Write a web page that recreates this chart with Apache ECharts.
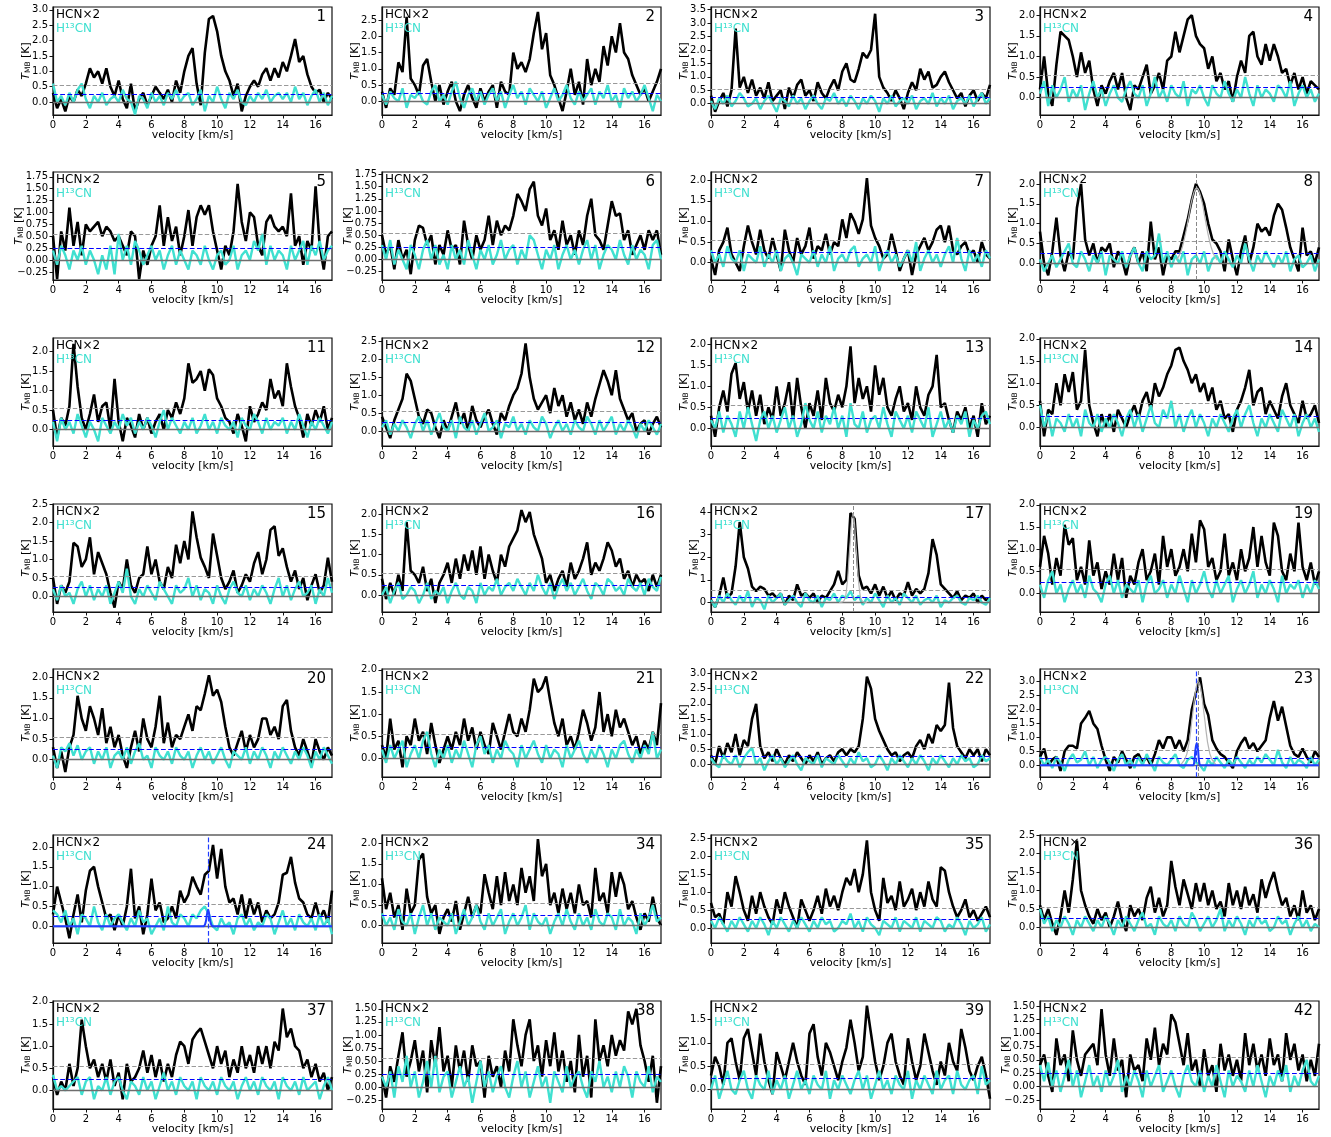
<!DOCTYPE html>
<html>
<head>
<meta charset="utf-8">
<title>HCN x2 / H13CN spectra</title>
<script src="https://cdn.jsdelivr.net/npm/echarts@6/dist/echarts.min.js"></script>
<style>
html,body{margin:0;padding:0;background:#fff;}
#main{width:1331px;height:1137px;}
</style>
</head>
<body>
<div id="main"></div>
<script>
// spectra resampled to 0.25 km/s channels, first channel at 0 km/s
var velStep = 0.25;

var panelIds = [1,2,3,4,5,6,7,8,11,12,13,14,15,16,17,19,20,21,22,23,24,34,35,36,37,38,39,42];

var xTicks = [0,2,4,6,8,10,12,14,16];
var ticksA = [0,0.5,1,1.5,2];
var ticksB = [0,0.5,1,1.5,2,2.5];
var ticksC = [0,0.5,1,1.5,2,2.5,3];
var ticksD = [0,0.5,1,1.5,2,2.5,3,3.5];
var ticksQ = [-0.25,0,0.25,0.5,0.75,1,1.25,1.5,1.75];
var ticksQ15 = [-0.25,0,0.25,0.5,0.75,1,1.25,1.5];
var ticks17 = [0,1,2,3,4];
var ticks39 = [0,0.5,1,1.5];

var panelTicks = [ticksC,ticksB,ticksD,ticksA,ticksQ,ticksQ,ticksA,ticksA,ticksA,ticksB,ticksA,ticksA,ticksB,ticksA,
                  ticks17,ticksA,ticksA,ticksA,ticksC,ticksC,ticksA,ticksA,ticksB,ticksB,ticksA,ticksQ15,ticks39,ticksQ15];
var panelYmax = [3.09,2.9,3.6,2.2,1.85,1.8,2.2,2.3,2.35,2.6,2.15,2.02,2.5,2.25,
                 4.35,2.02,2.2,2.02,3.15,3.45,2.3,2.2,2.6,2.5,2.02,1.65,1.9,1.6];
var yMin = -0.42;
var hcnLevel = 0.55;   // grey dashed
var h13Level = 0.25;   // blue dashed

// ---- HCN x2 (black) ----
var hcn1 = [0.3,-0.2,0.1,-0.3,0.2,0.0,0.4,0.2, 0.6,1.1,0.8,1.0,0.6,1.1,0.5,0.2, 0.7,0.1,-0.2,0.6,-0.3,0.1,0.3,-0.1,
  0.2,0.5,0.3,0.1,0.4,0.0,0.7,0.3, 1.0,1.5,1.75,0.6,-0.1,1.6,2.7,2.8, 2.3,1.5,1.0,0.7,0.2,0.6,-0.3,0.2,
  0.5,0.7,0.5,0.9,1.1,0.7,1.1,0.8, 1.3,1.0,1.5,2.05,1.3,1.5,0.9,0.5, 0.3,0.4,0.0,0.3,0.1];
var hcn2 = [0.3,-0.2,0.4,0.2,1.2,0.9,2.6,0.7, 0.5,0.2,1.1,1.3,0.6,0.0,0.5,-0.1, 0.3,0.6,0.0,-0.3,0.2,0.5,0.1,-0.2,
  0.4,0.0,0.3,0.5,-0.2,0.6,0.3,0.2, 1.5,1.0,1.2,0.9,1.3,2.1,2.75,1.6, 2.1,0.8,0.5,0.1,-0.3,0.3,1.0,0.2,
  0.6,-0.1,1.3,0.5,1.0,0.6,1.7,1.1, 2.0,1.5,2.4,1.5,1.3,0.8,0.5,0.2, 0.4,0.0,0.3,0.6,1.0];
var hcn3 = [0.3,-0.3,0.1,0.4,-0.1,0.5,2.8,0.6, 1.0,0.4,0.9,0.3,0.6,0.2,0.8,0.1, 0.3,0.5,-0.2,0.6,0.2,0.7,0.9,0.3,
  0.5,0.1,0.8,0.4,0.2,0.6,0.9,0.5, 1.2,1.5,0.9,0.8,1.3,1.9,1.7,2.0, 3.35,1.0,0.6,0.4,0.1,0.5,0.2,-0.2,
  0.4,0.8,0.5,1.3,0.9,1.2,0.6,0.7, 1.0,1.2,0.8,0.5,0.2,0.4,-0.1,0.3, 0.5,0.1,0.4,0.2,0.7];
var hcn4 = [0.2,1.0,0.1,-0.2,0.8,1.6,1.5,1.4, 1.0,0.5,1.1,0.6,0.9,0.2,-0.2,0.3, 0.1,0.4,0.6,0.2,0.6,0.0,-0.3,0.3,
  0.2,0.5,0.8,0.1,0.3,0.6,0.2,0.9, 1.0,1.6,1.1,1.5,1.9,2.0,1.5,1.3, 1.2,0.7,1.0,0.4,0.6,0.2,0.4,-0.1,
  0.5,0.9,0.6,1.5,1.6,1.0,0.8,1.3, 0.9,1.3,1.0,0.6,0.7,0.3,0.6,0.2, 0.5,0.1,0.4,0.3,0.2];
var hcn5 = [0.5,-0.4,0.6,0.2,1.1,0.3,0.8,0.1, 0.75,0.6,0.7,0.8,0.5,0.7,0.6,0.4, 0.5,0.3,0.1,0.6,0.5,-0.4,0.2,-0.1,
  0.3,0.5,1.15,0.3,0.9,0.4,0.7,0.1, 0.5,1.05,0.3,0.9,1.15,0.95,1.15,0.6, 0.2,-0.2,0.3,0.1,0.6,1.6,0.8,0.4,
  1.0,0.9,0.3,0.1,0.8,0.95,0.7,0.6, 0.7,0.5,1.4,0.3,0.5,-0.1,0.4,0.2, 1.55,0.3,-0.2,0.5,0.6];
var hcn6 = [0.5,0.1,0.3,-0.2,0.4,0.0,0.2,-0.3, 0.4,0.7,0.65,0.3,0.5,-0.1,0.3,0.1, 0.6,0.2,0.3,-0.1,0.8,0.3,0.0,0.5,
  0.2,0.4,0.9,0.3,0.8,0.5,0.7,0.6, 0.9,1.35,1.2,1.0,1.45,1.6,0.9,0.7, 1.05,0.4,0.6,0.2,0.8,0.3,0.5,0.1,
  0.6,0.3,0.9,1.25,0.5,0.4,0.2,0.7, 1.2,0.9,0.95,0.4,0.6,0.1,0.3,0.5, 0.2,0.6,0.4,0.6,0.1];
var hcn7 = [0.1,-0.3,0.3,0.5,0.85,0.2,0.0,-0.2, 0.4,0.9,0.5,0.2,0.8,0.3,0.1,0.6, 0.2,-0.2,0.8,0.3,0.0,0.6,0.2,0.4,
  0.85,0.1,0.4,0.3,0.7,0.2,0.5,0.4, 1.05,0.6,1.2,1.0,0.7,1.05,2.05,0.9, 0.6,0.4,0.1,0.2,0.7,0.3,-0.2,0.1,
  0.3,-0.3,0.2,0.4,0.6,0.3,0.5,0.8, 0.9,0.5,0.9,0.3,0.2,0.4,0.5,0.2, 0.3,0.0,0.5,0.2,0.1];
var hcn8 = [0.8,0.0,-0.3,0.3,1.15,0.2,-0.2,0.3, 0.1,1.4,2.0,0.6,0.2,0.5,0.0,0.4, 0.3,0.5,-0.1,0.3,0.1,-0.3,0.2,0.4,
  0.0,0.3,-0.2,1.05,0.1,0.4,-0.3,0.2, 0.1,0.3,0.3,0.7,1.1,1.6,2.0,1.8, 1.5,1.0,0.6,0.5,0.3,-0.2,0.6,0.1,
  -0.3,0.3,0.7,0.0,0.4,1.0,0.8,0.9, 0.7,1.2,1.5,1.35,0.9,0.4,0.1,-0.2, 0.9,0.2,0.3,0.0,0.4];
var hcn11 = [0.5,-0.2,0.3,0.1,0.6,2.2,1.1,0.3, 0.0,0.4,0.9,0.2,0.6,0.7,0.0,1.3, 0.2,-0.3,0.3,0.1,-0.2,0.4,0.0,0.3,
  -0.1,0.2,0.4,0.0,0.5,0.3,0.7,0.4, 0.8,1.7,1.2,1.3,1.5,1.0,1.55,1.4, 0.8,0.6,0.3,0.2,-0.1,0.4,0.1,-0.3,
  0.6,0.2,0.4,0.7,0.5,1.3,0.8,1.0, 0.6,1.7,1.1,0.6,0.3,-0.2,0.4,0.1, 0.5,0.2,0.6,0.0,0.3];
var hcn12 = [0.4,0.1,-0.2,0.3,0.6,0.9,1.6,1.4, 0.9,0.4,0.2,0.6,0.5,0.1,-0.2,0.3, 0.0,0.4,0.8,0.2,0.5,0.0,0.7,0.3,
  0.1,0.4,0.6,0.2,-0.1,0.5,0.3,0.7, 1.0,1.2,1.6,2.45,1.5,0.9,0.6,0.8, 1.0,0.5,1.2,0.7,1.0,0.4,0.8,0.3,
  0.6,0.2,0.8,0.4,0.9,1.3,1.7,1.4, 1.0,1.7,0.9,0.6,0.3,0.5,0.0,0.2, 0.3,-0.1,0.2,0.4,0.1];
var hcn13 = [0.3,-0.2,0.5,0.9,0.4,1.3,1.55,0.7, 1.1,0.4,0.9,0.3,0.8,0.1,0.5,0.2, 1.0,0.3,0.6,1.1,0.2,1.2,0.5,0.0,
  0.6,0.3,0.9,0.2,1.2,0.6,0.4,0.8, 0.5,1.0,1.95,0.6,1.2,0.7,1.0,0.4, 1.5,0.8,1.2,0.5,0.3,0.7,1.0,0.4,
  0.6,0.2,1.0,0.5,0.3,0.8,1.0,1.75, 0.5,0.6,0.2,-0.1,0.4,0.2,0.5,0.0, 0.3,-0.2,0.6,0.1,0.3];
var hcn14 = [0.6,-0.2,0.4,0.3,1.0,0.5,1.2,0.8, 1.25,0.4,0.6,1.75,0.5,0.1,-0.2,0.3, 0.0,0.3,-0.1,0.4,0.2,0.0,0.3,0.5,
  0.2,0.6,0.8,0.4,1.0,0.7,0.9,1.2, 1.4,1.75,1.8,1.5,1.3,1.0,1.2,0.8, 1.0,0.6,0.9,0.4,0.6,0.2,0.3,-0.1,
  0.4,0.6,0.9,1.3,0.5,0.8,0.9,0.3, 0.6,0.4,0.2,0.7,1.0,0.5,0.3,0.1, 0.6,0.2,0.3,0.5,0.1];
var hcn15 = [0.5,-0.2,0.3,0.1,0.4,1.45,1.35,0.8, 1.0,1.6,0.6,1.2,0.9,0.6,0.1,-0.3, 0.4,0.2,1.0,0.3,0.1,0.5,0.6,1.35,
  0.6,1.0,0.4,0.2,0.8,0.5,1.4,0.9, 1.5,1.0,2.3,1.6,1.05,0.8,0.5,1.7, 1.1,0.5,0.2,0.4,0.7,0.1,0.3,0.6,
  0.4,0.9,1.2,0.6,1.0,1.8,1.9,1.1, 1.3,0.8,0.4,0.7,0.2,0.5,-0.1,0.3, 0.6,0.1,0.3,1.05,0.4];
var hcn16 = [0.4,-0.1,0.3,0.0,0.5,0.1,1.8,0.6, 0.5,0.3,0.7,0.1,0.4,-0.2,0.3,0.5, 0.8,0.3,0.9,0.4,1.0,0.6,1.1,0.5,
  1.2,0.4,1.0,0.6,0.3,1.0,0.7,1.2, 1.4,1.6,2.1,1.8,2.05,1.5,1.2,0.9, 0.3,0.5,0.1,0.4,0.6,0.2,0.8,0.4,
  0.6,0.9,1.3,0.5,0.8,0.6,0.9,1.3, 1.1,0.7,0.9,0.4,0.6,0.2,0.5,0.3, 0.4,0.1,0.5,0.2,0.5];
var hcn17 = [0.1,-0.2,0.3,1.1,0.2,0.4,1.6,3.55, 2.0,1.5,0.7,0.5,0.7,0.6,0.3,0.4, 0.2,0.4,-0.1,0.3,0.1,0.8,0.3,0.4,
  0.2,0.4,0.0,0.3,0.2,0.5,0.8,1.4, 0.8,1.0,3.95,3.7,1.2,0.6,0.7,0.4, 0.8,0.3,0.7,0.2,0.5,0.1,0.4,0.3,
  0.9,0.3,0.6,0.4,0.6,1.3,2.8,2.1, 0.8,0.6,0.4,0.2,0.5,0.1,0.3,0.2, 0.4,0.0,0.3,0.1,0.2];
var hcn19 = [0.6,1.3,0.9,0.2,0.8,0.4,1.55,1.1, 1.25,0.3,0.6,0.2,1.2,0.4,0.7,0.1, 0.5,0.2,0.9,0.3,0.8,-0.1,0.4,0.2,
  0.7,1.0,0.3,0.5,0.9,0.2,1.3,0.6, 1.0,0.4,0.6,1.0,0.5,1.35,0.7,1.65, 1.45,0.6,0.8,0.3,0.5,1.35,0.4,0.7,
  0.3,1.0,0.5,0.8,1.5,0.6,1.3,0.7, 0.4,1.6,1.3,0.5,0.3,0.9,0.5,1.6, 0.6,0.3,0.7,0.2,0.5];
var hcn20 = [0.3,-0.2,0.2,-0.3,0.3,0.6,1.55,1.0, 0.7,1.3,1.0,0.6,1.25,0.4,0.8,0.3, 0.6,0.1,-0.2,0.3,0.7,0.2,1.0,0.5,
  0.3,0.8,1.55,0.4,0.9,0.3,0.6,0.5, 0.8,1.1,0.7,1.3,1.2,1.6,2.05,1.55, 1.7,1.4,0.8,0.3,0.1,0.4,0.7,0.2,
  0.6,0.3,0.5,1.0,1.0,0.6,0.8,0.5, 1.3,1.45,0.7,0.3,0.1,0.5,0.2,-0.1, 0.5,0.2,0.0,0.3,0.1];
var hcn21 = [0.3,0.0,0.9,0.2,0.4,-0.2,0.5,0.3, 0.9,0.4,0.6,0.1,0.8,0.3,-0.1,0.2, 0.5,0.2,0.6,0.3,0.9,0.4,0.7,0.2,
  0.6,0.3,0.1,0.8,0.5,0.2,0.6,1.0, 0.6,0.5,0.9,0.6,1.1,1.8,1.5,1.6, 1.85,1.3,0.8,0.5,0.9,0.3,0.5,0.2,
  0.6,1.1,0.8,0.4,0.7,1.5,0.6,1.0, 0.5,1.1,0.7,0.9,0.6,0.3,0.5,0.1, 0.4,0.2,0.6,0.3,1.25];
var hcn22 = [0.3,0.0,0.6,0.2,0.7,0.4,1.0,0.3, 0.8,0.6,1.5,2.0,0.6,0.2,0.4,0.1, 0.5,0.2,0.0,0.3,0.1,0.4,0.2,0.0,
  0.3,0.1,0.4,0.0,0.2,0.3,0.1,0.4, 0.5,0.3,0.5,0.4,0.6,1.5,2.9,2.5, 1.5,1.1,0.8,0.5,0.3,0.4,0.1,0.3,
  0.4,0.2,0.6,0.8,0.5,1.0,0.7,1.3, 1.1,1.3,2.7,1.2,0.6,0.4,0.2,0.5, 0.3,0.5,0.1,0.5,0.3];
var hcn23 = [0.3,0.6,0.0,0.2,0.3,-0.2,0.5,0.7, 0.7,0.6,1.5,1.7,1.95,1.5,1.3,0.7, 0.2,-0.2,0.3,0.1,0.5,0.2,-0.1,0.3,
  0.4,0.1,0.3,0.0,0.4,0.9,0.6,1.0, 1.0,0.6,0.9,0.5,0.9,2.0,2.6,3.15, 2.2,1.8,0.9,0.6,0.4,0.3,0.1,-0.1,
  0.5,0.8,1.0,0.6,0.8,0.5,0.7,0.9, 1.7,2.3,1.6,2.1,1.4,0.7,0.4,0.3, 0.6,0.3,0.1,0.5,0.3];
var hcn24 = [0.3,1.0,0.6,0.2,-0.3,0.3,0.8,0.1, 0.9,1.4,1.5,1.0,0.6,0.2,0.3,-0.1, 0.3,0.0,0.5,1.45,0.2,0.5,-0.2,0.3,
  1.2,0.4,0.6,0.1,0.2,0.5,0.2,0.9, 0.6,0.8,1.25,1.0,0.8,1.3,1.4,2.05, 1.2,1.95,1.0,0.6,0.7,0.3,0.8,0.2,
  0.7,0.3,0.6,0.1,0.4,0.2,0.3,0.6, 1.3,1.35,1.75,1.1,0.7,0.6,0.3,0.2, 0.6,0.2,0.4,0.1,0.9];
var hcn34 = [1.15,0.4,0.8,0.2,0.5,-0.1,0.9,0.3, 0.5,1.6,1.75,0.7,0.3,0.5,-0.2,0.2, 0.4,0.1,0.6,-0.1,0.3,0.7,0.2,0.5,
  0.3,1.25,0.8,0.4,1.2,0.5,1.3,0.6, 1.0,0.5,1.4,0.8,1.2,0.6,2.1,1.2, 1.5,0.5,0.8,0.3,0.9,0.4,0.8,0.3,
  1.0,0.5,0.6,0.2,1.4,0.6,0.8,0.3, 1.3,0.7,1.3,1.0,0.4,0.6,0.2,-0.1, 0.3,0.1,0.7,0.2,0.0];
var hcn35 = [0.7,0.3,0.4,0.1,1.0,0.6,1.45,1.0, 0.5,0.2,0.9,0.4,1.0,0.6,0.3,0.1, 0.8,0.4,1.0,0.6,0.3,0.0,0.8,0.5,
  0.2,0.5,0.9,0.4,1.1,0.6,0.9,0.5, 1.0,1.4,1.2,1.65,1.0,1.5,2.45,1.0, 0.5,0.2,1.4,0.7,0.9,0.5,1.3,0.6,
  0.8,1.1,0.5,1.0,0.6,1.3,0.8,0.6, 1.7,1.6,1.0,0.6,0.3,0.5,0.8,0.3, 0.5,0.2,0.4,0.6,0.3];
var hcn36 = [0.6,0.2,0.5,0.1,-0.2,0.3,1.0,0.4, 1.3,2.35,1.0,0.6,0.3,0.1,0.5,0.2, 0.4,0.0,0.3,0.7,0.2,-0.1,0.6,0.3,
  0.5,0.2,0.8,1.1,0.4,0.8,0.3,0.6, 1.8,1.1,0.6,1.3,0.9,0.5,1.2,0.7, 1.2,0.6,1.0,0.5,0.7,0.3,1.2,0.6,
  1.0,0.5,1.1,0.6,0.9,0.4,1.3,0.8, 1.2,1.5,1.0,0.6,0.8,0.3,0.6,0.2, 1.0,0.4,0.6,0.2,0.5];
var hcn37 = [0.3,-0.1,0.2,0.0,0.6,0.1,0.5,1.6, 1.0,0.5,0.7,0.3,0.6,0.2,0.7,0.1, 0.4,-0.2,0.6,0.2,0.3,0.5,0.9,0.4,
  0.8,0.3,0.7,0.2,0.6,0.3,0.8,1.1, 1.0,0.6,1.15,1.3,1.4,1.1,0.8,0.5, 1.0,0.6,0.9,0.3,0.7,0.4,1.0,0.5,
  0.8,0.4,1.0,0.6,1.0,0.5,1.1,0.9, 1.85,1.2,1.4,1.0,0.9,0.5,0.7,0.3, 0.6,0.2,0.4,0.0,0.3];
var hcn38 = [0.2,-0.2,0.4,0.1,0.6,1.05,0.2,0.5, 0.9,0.3,0.7,-0.1,0.9,0.4,1.15,0.3, 0.6,0.0,0.8,0.3,0.7,0.1,0.8,0.4,
  0.5,-0.2,0.6,0.2,0.4,0.0,0.7,0.3, 1.3,0.8,0.4,1.0,1.3,0.5,0.8,0.2, 0.9,0.4,1.05,0.3,0.7,0.1,0.5,-0.1,
  1.0,0.2,0.6,-0.2,1.3,0.5,0.8,0.4, 1.0,0.6,0.9,0.7,1.45,1.2,1.5,0.8, 0.5,0.1,0.6,-0.3,0.4];
var hcn39 = [0.3,0.7,0.5,0.1,1.0,1.1,0.6,0.2, 1.1,1.3,0.8,0.3,1.2,0.6,0.2,-0.1, 0.8,0.5,0.2,0.6,1.0,0.6,0.3,0.1,
  1.2,1.4,0.7,0.3,1.0,0.8,0.5,0.2, 0.6,0.9,1.5,1.0,0.4,0.7,1.8,1.2, 0.6,0.2,0.5,1.0,1.2,0.6,0.3,0.1,
  1.1,0.6,0.2,0.5,1.2,0.8,0.4,0.1, 0.6,0.3,1.0,0.6,0.4,1.3,0.9,0.4, 0.2,0.5,0.7,0.3,-0.2];
var hcn42 = [0.4,0.6,0.2,-0.1,0.9,0.4,0.6,0.1, 1.05,0.5,0.2,0.6,0.7,0.8,0.4,1.45, 0.6,0.2,0.9,0.3,0.5,-0.2,0.6,0.3,
  0.4,0.1,0.9,0.5,1.1,0.4,0.8,0.6, 1.35,1.2,0.8,0.4,1.0,0.3,0.5,0.0, 0.7,0.2,0.4,-0.1,0.8,0.3,0.6,0.2,
  0.5,0.1,1.0,0.4,0.8,0.3,0.6,0.2, 0.9,0.4,0.6,0.1,1.0,0.5,0.8,0.3, 0.6,0.1,0.5,0.2,0.8];

// ---- H13CN (turquoise) ----
var h13_1 = [0.6,0.0,0.2,-0.1,0.3,0.0,0.4,0.6, 0.1,-0.2,0.2,0.0,0.3,-0.1,0.1,0.2, 0.0,0.4,0.1,0.0,-0.4,0.2,0.1,-0.2,
  0.3,0.0,0.2,-0.1,0.3,0.1,0.4,0.0, 0.2,0.3,-0.1,0.1,0.4,-0.3,0.2,0.0, 0.5,0.1,-0.2,0.3,0.1,0.4,0.0,-0.1,
  0.2,0.0,0.3,0.1,0.4,0.0,0.2,0.3, 0.1,0.3,0.0,0.5,0.1,0.3,-0.1,0.2, 0.4,0.0,0.3,-0.1,0.2];
var h13_2 = [0.2,-0.1,0.3,0.1,0.0,0.4,-0.2,0.2, 0.1,0.3,0.0,-0.1,0.3,0.5,0.0,0.2, -0.1,0.3,0.6,0.1,-0.2,0.2,0.4,0.0,
  0.3,-0.1,0.2,0.4,0.0,0.3,-0.2,0.2, 0.5,0.1,0.3,-0.1,0.4,0.2,0.0,0.3, -0.2,0.1,0.4,0.0,0.2,0.5,0.1,-0.1,
  0.3,0.0,0.2,0.4,-0.1,0.3,0.1,0.5, 0.0,0.2,-0.2,0.4,0.1,0.3,0.0,0.2, 0.5,0.1,-0.3,0.2,0.0];
var h13_3 = [0.1,-0.2,0.2,0.0,0.3,-0.1,0.1,0.4, 0.2,-0.1,0.0,0.2,-0.2,0.1,0.3,0.0, -0.3,0.2,0.1,-0.1,0.3,0.0,0.2,-0.2,
  0.1,0.3,0.0,-0.2,0.2,0.1,0.4,0.0, 0.2,-0.1,0.3,0.1,-0.2,0.2,0.0,0.3, 0.1,-0.3,0.2,0.0,0.3,-0.1,0.1,0.2,
  0.0,0.3,-0.2,0.1,0.2,0.0,0.4,-0.1, 0.2,0.0,0.3,-0.2,0.1,0.2,0.0,0.3, -0.1,0.2,0.4,0.0,0.2];
var h13_4 = [0.1,0.4,-0.2,0.3,0.0,0.2,0.5,-0.1, 0.2,0.0,0.3,-0.3,0.1,0.4,0.0,0.2, -0.2,0.1,0.3,0.0,-0.1,0.2,0.4,0.1,
  0.0,0.3,-0.2,0.1,0.5,0.0,0.2,-0.1, 0.3,0.1,0.0,0.4,-0.2,0.2,0.1,0.3, 0.0,-0.2,0.3,0.1,0.0,0.4,0.1,-0.1,
  0.2,0.0,0.5,0.1,-0.2,0.3,0.0,0.2, 0.1,-0.1,0.3,0.2,0.0,0.4,-0.2,0.1, 0.3,0.0,0.2,-0.1,0.1];
var h13_5 = [0.2,-0.1,0.3,0.1,-0.2,0.2,0.0,0.3, -0.1,0.2,0.0,-0.3,0.1,-0.2,0.3,-0.3, 0.55,0.0,0.3,-0.1,0.4,0.2,-0.1,0.1,
  0.3,0.0,0.2,-0.2,0.1,0.3,-0.1,0.2, 0.0,-0.2,0.2,0.1,-0.1,0.3,0.0,-0.2, 0.1,0.2,-0.1,0.0,0.3,-0.2,0.1,0.2,
  0.0,0.4,0.2,0.55,-0.1,0.3,0.0,0.2, 0.1,-0.2,0.3,0.0,0.2,0.4,-0.1,0.3, 0.1,0.4,0.0,0.2,0.3];
var h13_6 = [0.3,0.0,0.4,-0.1,0.2,0.0,-0.2,0.3, 0.1,-0.2,0.2,0.4,0.0,0.3,-0.1,0.1, -0.2,0.3,0.0,0.2,-0.1,0.4,0.1,-0.2,
  0.2,0.0,0.3,-0.1,0.1,0.4,0.0,0.2, 0.3,-0.1,0.2,0.0,0.5,0.4,0.1,-0.2, 0.2,0.0,0.3,-0.2,0.1,0.3,0.0,0.2,
  -0.1,0.2,0.4,0.0,0.3,-0.2,0.1,0.3, 0.2,0.0,0.4,0.1,-0.1,0.3,0.0,0.2, 0.1,-0.2,0.3,0.4,0.0];
var h13_7 = [0.3,0.0,0.2,-0.1,0.4,0.1,0.0,0.3, -0.2,0.2,0.1,0.0,0.4,-0.1,0.2,0.0, 0.3,-0.2,0.1,0.2,0.0,-0.3,0.2,0.1,
  0.0,0.3,-0.1,0.2,0.0,0.4,-0.2,0.1, 0.2,0.0,0.3,0.4,-0.1,0.1,0.2,0.0, 0.4,-0.2,0.1,0.3,0.0,0.2,-0.1,0.1,
  0.3,0.0,0.5,-0.2,0.1,0.3,0.0,0.2, -0.1,0.2,0.4,0.0,0.6,0.1,-0.2,0.3, 0.0,0.2,-0.1,0.3,0.1];
var h13_8 = [0.1,-0.2,0.0,0.2,-0.1,0.1,0.3,0.5, 0.0,-0.1,0.3,0.1,-0.2,0.2,0.0,0.3, -0.3,0.2,0.1,0.0,0.3,-0.1,0.2,0.4,
  0.0,-0.2,0.3,0.1,0.2,0.75,0.0,0.3, -0.1,0.2,0.0,0.3,-0.3,0.1,0.2,0.0, 0.3,-0.2,0.1,0.2,0.0,0.3,0.1,-0.1,
  0.2,0.0,0.5,0.1,-0.2,0.2,0.0,0.3, 0.1,-0.1,0.2,0.0,0.3,-0.2,0.1,0.2, -0.1,0.0,0.2,-0.2,0.1];
var h13_11 = [0.2,-0.3,0.3,0.0,0.2,-0.1,0.4,0.1, -0.2,0.2,0.0,-0.3,0.3,0.1,-0.1,0.2, 0.0,0.4,0.1,0.3,-0.1,0.2,0.0,0.3,
  0.1,-0.2,0.2,0.5,0.0,0.3,0.1,-0.1, 0.2,0.0,0.3,-0.1,0.1,0.4,0.0,0.2, -0.1,0.3,0.1,0.0,0.2,-0.2,0.3,0.1,
  0.0,0.4,0.2,-0.1,0.3,0.0,0.2,0.1, 0.3,-0.1,0.2,0.0,0.4,0.1,-0.2,0.2, 0.0,0.3,0.1,-0.1,0.2];
var h13_12 = [0.1,0.3,-0.1,0.2,0.0,0.3,0.1,-0.2, 0.2,0.4,0.0,0.3,-0.1,0.2,0.5,0.1, 0.0,0.3,-0.2,0.4,0.1,0.0,0.3,-0.1,
  0.2,0.5,0.0,0.1,0.3,-0.2,0.2,0.1, 0.4,0.0,0.2,-0.1,0.3,0.1,0.0,0.4, 0.2,-0.2,0.1,0.3,0.0,0.2,-0.1,0.3,
  0.1,0.0,0.4,0.2,-0.1,0.3,0.0,0.2, 0.4,-0.1,0.2,0.0,0.3,0.1,-0.2,0.2, 0.0,0.3,0.1,-0.1,0.2];
var h13_13 = [0.2,0.0,0.4,-0.1,0.3,0.1,-0.2,0.4, 0.0,0.5,0.1,-0.3,0.2,0.4,0.0,0.3, -0.1,0.2,0.5,0.0,0.3,-0.2,0.1,0.6,
  0.2,0.0,0.4,-0.1,0.3,0.1,0.5,0.0, 0.3,-0.2,0.6,0.1,0.0,0.4,-0.1,0.2, 0.3,0.0,0.5,0.1,-0.2,0.4,0.2,0.0,
  0.3,-0.1,0.4,0.2,0.0,0.5,-0.2,0.1, 0.4,0.0,0.2,-0.1,0.3,0.1,0.4,-0.2, 0.2,0.0,0.3,0.4,0.1];
var h13_14 = [0.5,0.0,0.3,-0.2,0.2,0.1,-0.1,0.3, 0.0,0.2,-0.2,0.4,0.1,0.0,0.3,-0.1, 0.2,0.0,0.3,0.1,-0.2,0.2,0.4,0.0,
  0.3,-0.1,0.2,0.5,0.1,0.0,0.4,0.2, 0.6,0.0,0.3,-0.1,0.2,0.4,0.0,0.3, 0.1,-0.2,0.2,0.0,0.3,0.1,-0.1,0.2,
  0.4,0.0,0.3,0.5,0.1,-0.2,0.2,0.0, 0.3,0.1,-0.1,0.4,0.2,0.0,0.3,-0.2, 0.1,0.3,0.0,0.2,-0.1];
var h13_15 = [0.2,-0.1,0.3,0.0,0.1,-0.2,0.2,0.4, 0.0,0.3,-0.1,0.2,0.0,0.3,-0.2,0.1, 0.4,0.1,0.75,0.0,-0.2,0.2,0.0,0.3,
  0.1,-0.1,0.4,0.2,0.0,-0.2,0.3,0.1, 0.2,0.5,0.0,0.3,-0.1,0.2,0.1,-0.2, 0.3,0.0,-0.2,0.2,0.4,0.1,0.0,0.3,
  -0.1,0.2,0.0,0.3,0.1,-0.2,0.2,0.5, 0.0,0.3,-0.1,0.2,0.4,0.0,0.1,0.3, -0.2,0.2,0.0,0.5,0.1];
var h13_16 = [0.0,0.2,-0.2,0.1,0.3,-0.1,0.0,0.2, 0.1,-0.2,0.0,0.3,-0.1,0.1,0.0,0.2, -0.2,0.1,0.3,0.0,-0.1,0.2,0.1,-0.2,
  0.3,0.0,0.2,0.1,0.4,0.0,0.2,0.3, 0.1,0.4,0.2,0.0,0.3,0.1,0.5,0.2, 0.0,0.3,-0.1,0.2,0.4,0.1,0.3,0.0,
  0.2,0.4,0.1,-0.1,0.3,0.2,0.0,0.4, 0.3,0.1,0.2,0.0,0.4,0.2,0.1,0.3, 0.0,0.4,0.2,0.1,0.45];
var h13_17 = [0.1,-0.2,0.3,0.0,0.4,0.1,-0.1,0.3, 0.0,0.5,-0.2,0.2,0.1,-0.3,0.3,0.0, 0.2,0.4,-0.1,0.1,0.3,0.0,-0.2,0.4,
  0.1,0.0,0.3,-0.2,0.2,0.1,0.4,0.0, 0.3,0.2,0.5,0.1,0.3,-0.1,0.2,0.0, 0.4,0.1,-0.2,0.3,0.0,0.2,-0.1,0.4,
  0.2,0.0,0.3,-0.1,0.1,0.2,0.0,0.3, -0.2,0.1,0.0,0.2,0.3,0.0,-0.1,0.2, 0.1,0.3,0.0,-0.1,0.2];
var h13_19 = [0.2,-0.1,0.3,0.5,0.0,0.2,-0.2,0.1, 0.3,0.0,0.2,-0.1,0.4,0.1,0.0,-0.2, 0.2,0.4,0.0,0.3,-0.1,0.2,0.1,0.0,
  0.3,-0.2,0.2,0.4,0.0,0.1,0.3,-0.1, 0.2,0.0,0.4,0.1,-0.2,0.3,0.0,0.2, 0.5,0.1,-0.1,0.3,0.0,0.2,0.4,-0.2,
  0.1,0.3,0.0,0.2,0.5,-0.1,0.2,0.0, 0.3,0.1,-0.2,0.4,0.0,0.2,0.1,0.3, -0.1,0.2,0.0,0.3,0.1];
var h13_20 = [0.1,-0.2,0.3,0.2,0.4,0.1,0.35,0.0, 0.2,0.3,-0.1,0.2,0.0,0.3,-0.2,0.1, 0.2,0.0,0.3,-0.1,0.2,0.4,0.0,0.1,
  -0.2,0.3,0.1,0.0,0.2,-0.1,0.3,0.1, 0.0,0.2,-0.2,0.1,0.3,0.0,0.2,-0.1, 0.1,0.3,0.0,-0.2,0.2,0.1,0.0,0.3,
  -0.1,0.2,0.0,0.3,0.1,-0.2,0.2,0.0, 0.3,0.1,-0.1,0.2,0.0,0.3,0.1,-0.2, 0.2,0.0,0.3,0.1,-0.1];
var h13_21 = [0.2,-0.1,0.3,0.0,0.2,0.4,-0.2,0.1, 0.3,0.0,0.4,0.6,0.1,-0.2,0.2,0.0, 0.3,-0.1,0.2,0.0,0.4,0.1,-0.2,0.3,
  0.5,0.1,0.3,-0.1,0.2,0.0,0.4,0.2, 0.1,-0.2,0.3,0.0,0.2,0.4,0.1,-0.1, 0.3,0.0,0.2,0.1,-0.2,0.3,0.0,0.2,
  0.4,0.1,-0.1,0.2,0.0,0.3,0.1,-0.2, 0.2,0.0,0.3,0.4,0.1,-0.1,0.2,0.0, 0.3,0.1,0.6,0.0,0.2];
var h13_22 = [0.2,0.0,-0.1,0.3,0.1,0.0,0.3,-0.1, 0.2,0.4,0.55,0.0,0.2,-0.2,0.1,0.3, 0.0,0.2,-0.1,0.1,0.3,0.0,-0.2,0.2,
  0.1,0.0,0.3,-0.1,0.2,0.1,0.0,0.3, 0.1,-0.1,0.2,0.0,0.4,0.1,0.2,-0.1, 0.0,0.3,0.1,-0.2,0.2,0.0,0.3,0.1,
  -0.1,0.2,0.0,0.3,0.1,-0.2,0.2,0.0, 0.3,0.1,-0.1,0.2,0.0,0.3,0.1,0.2, -0.1,0.0,0.3,0.1,0.2];
var h13_23 = [0.3,0.0,0.2,-0.1,0.3,0.1,-0.2,0.2, 0.4,0.1,0.2,0.5,0.0,0.3,-0.1,0.2, 0.3,0.1,-0.2,0.2,0.4,0.0,0.2,-0.1,
  0.3,0.0,0.4,0.1,-0.2,0.3,0.1,0.0, 0.2,0.4,0.0,-0.1,0.2,0.3,0.1,0.0, -0.2,0.2,0.0,0.3,0.1,-0.1,0.2,0.0,
  0.3,0.1,-0.1,0.2,0.0,0.3,0.1,0.4, 0.2,0.0,0.55,0.1,-0.1,0.3,0.0,0.2, 0.1,-0.1,0.3,0.0,0.2];
var h13_24 = [0.4,0.3,0.1,0.4,0.0,0.2,-0.2,0.3, 0.2,0.0,0.5,0.1,-0.1,0.3,0.0,0.2, 0.3,0.1,-0.1,0.2,0.0,0.4,0.1,0.2,
  -0.2,0.0,0.2,-0.1,0.5,0.1,0.0,0.3, 0.2,0.0,0.3,0.2,0.4,0.5,0.3,0.0, -0.1,0.2,0.0,0.1,-0.2,0.2,0.3,0.0,
  0.2,-0.1,0.1,0.0,0.3,0.2,-0.2,0.1, 0.4,0.0,0.2,-0.1,0.3,0.1,0.0,0.2, -0.1,0.3,0.0,0.2,-0.2];
var h13_34 = [0.3,0.0,0.2,-0.1,0.4,0.1,0.0,0.3, -0.2,0.2,0.5,0.0,0.3,-0.1,0.2,0.1, 0.0,0.3,-0.2,0.1,0.4,0.0,0.2,0.5,
  0.1,-0.1,0.3,0.0,0.2,0.4,-0.2,0.1, 0.3,0.0,0.2,0.5,-0.1,0.3,0.1,0.0, 0.2,-0.2,0.1,0.3,0.0,0.4,0.1,-0.1,
  0.3,0.0,0.2,-0.1,0.4,0.1,0.0,0.3, 0.2,-0.1,0.4,0.0,0.2,0.1,-0.2,0.3, 0.0,0.2,0.5,0.1,0.2];
var h13_35 = [0.2,0.0,0.3,0.1,-0.1,0.2,0.0,0.3, 0.1,-0.1,0.2,0.0,0.3,0.1,-0.2,0.2, 0.0,0.3,0.1,-0.1,0.2,0.0,0.3,0.1,
  -0.1,0.2,0.0,0.3,0.1,0.2,-0.1,0.0, 0.2,0.1,0.4,0.0,0.2,-0.1,0.3,0.1, 0.0,-0.2,0.2,0.1,0.0,0.3,-0.1,0.2,
  0.1,0.0,0.3,-0.1,0.2,0.1,0.0,0.3, 0.2,-0.1,0.1,0.0,0.3,0.1,-0.2,0.2, 0.0,0.1,0.3,-0.1,0.1];
var h13_36 = [0.5,0.1,0.3,-0.1,0.2,0.0,0.3,0.1, -0.2,0.2,0.0,0.3,0.1,-0.1,0.2,0.0, 0.3,0.1,-0.2,0.2,0.0,0.3,0.1,-0.1,
  0.2,0.4,0.0,0.1,-0.2,0.3,0.1,0.0, 0.2,-0.1,0.3,0.1,0.0,0.4,0.2,-0.1, 0.1,0.3,0.0,0.2,0.5,-0.1,0.2,0.0,
  0.3,0.1,-0.2,0.2,0.0,0.3,0.1,0.2, -0.1,0.0,0.3,0.1,0.2,-0.2,0.1,0.3, 0.0,0.2,-0.1,0.1,0.0];
var h13_37 = [0.35,0.0,0.1,0.0,0.1,0.2,0.3,-0.1, 0.2,0.3,-0.2,0.1,0.0,0.3,-0.1,0.2, 0.3,0.0,-0.2,0.2,0.1,-0.1,0.3,0.0,
  0.2,-0.2,0.1,0.4,0.0,0.2,-0.1,0.3, 0.1,0.0,0.2,-0.2,0.3,0.1,0.0,0.2, -0.1,0.3,0.1,0.0,0.2,-0.2,0.1,0.3,
  0.0,0.2,-0.1,0.3,0.1,0.0,0.2,-0.2, 0.3,0.1,0.0,0.2,-0.1,0.3,0.0,0.1, 0.2,-0.2,0.1,0.3,0.0];
var h13_38 = [0.2,0.0,0.3,-0.2,0.4,0.1,0.6,0.0, 0.3,-0.2,0.1,0.5,0.0,0.6,-0.1,0.2, 0.3,-0.2,0.1,0.4,0.0,0.2,-0.3,0.1,
  0.5,0.0,0.3,-0.1,0.2,0.4,0.0,-0.2, 0.2,0.5,0.0,0.3,-0.2,0.1,0.4,0.0, 0.2,-0.3,0.3,0.1,-0.1,0.4,0.0,0.2,
  0.3,0.0,-0.2,0.3,0.1,0.5,0.0,0.2, -0.1,0.3,0.0,0.4,0.2,-0.2,0.3,0.1, 0.0,0.4,-0.1,0.2,0.1];
var h13_39 = [0.0,0.3,-0.2,0.1,0.4,0.0,-0.1,0.2, 0.4,0.0,-0.2,0.3,0.1,0.0,0.4,-0.1, 0.2,0.0,0.3,-0.2,0.1,0.4,0.0,0.2,
  -0.1,0.3,0.1,0.0,0.4,-0.2,0.2,0.0, 0.3,0.1,-0.1,0.2,0.4,0.0,0.3,-0.2, 0.1,0.4,0.0,0.2,-0.1,0.3,0.1,0.0,
  0.4,-0.2,0.2,0.0,0.3,0.1,-0.1,0.4, 0.0,0.2,0.3,-0.1,0.4,0.1,0.0,0.2, 0.3,-0.1,0.5,0.1,0.2];
var h13_42 = [0.4,0.1,0.45,0.0,0.3,-0.1,0.2,0.5, 0.0,0.3,-0.2,0.1,0.4,0.0,0.2,-0.1, 0.3,0.0,0.2,0.5,-0.1,0.2,0.0,0.3,
  0.1,-0.2,0.3,0.0,0.2,0.4,-0.1,0.1, 0.3,0.0,-0.2,0.2,0.4,0.1,0.0,0.3, -0.1,0.2,0.0,0.4,0.1,-0.2,0.3,0.0,
  0.2,0.1,-0.1,0.3,0.0,0.4,0.1,-0.2, 0.2,0.0,0.3,0.1,0.4,-0.1,0.2,0.0, 0.3,0.5,0.1,0.0,0.2];

var panelHcn = [hcn1,hcn2,hcn3,hcn4,hcn5,hcn6,hcn7,hcn8,hcn11,hcn12,hcn13,hcn14,hcn15,hcn16,
                hcn17,hcn19,hcn20,hcn21,hcn22,hcn23,hcn24,hcn34,hcn35,hcn36,hcn37,hcn38,hcn39,hcn42];
var panelH13 = [h13_1,h13_2,h13_3,h13_4,h13_5,h13_6,h13_7,h13_8,h13_11,h13_12,h13_13,h13_14,h13_15,h13_16,
                h13_17,h13_19,h13_20,h13_21,h13_22,h13_23,h13_24,h13_34,h13_35,h13_36,h13_37,h13_38,h13_39,h13_42];

// ---- gaussian fits ----
var fit8Vel = [8.3,8.55,8.8,9.05,9.3,9.55,9.8,10.05,10.3,10.55,10.8];
var fit8T   = [0.08,0.26,0.62,1.15,1.67,1.9,1.67,1.15,0.62,0.26,0.08];
var fit17Vel = [7.8,8.05,8.25,8.45,8.65,8.85,9.05,9.25,9.5];
var fit17T   = [0.0,0.04,0.53,2.37,3.9,2.37,0.53,0.04,0.0];
var fit23Vel = [8.6,8.95,9.3,9.5,9.65,9.8,10.0,10.35,10.7];
var fit23T   = [0.03,0.41,1.82,2.74,3.0,2.74,1.82,0.41,0.03];
var h13fit23Vel = [0,9.3,9.4,9.47,9.55,9.63,9.7,9.8,17];
var h13fit23T   = [0,0,0.12,0.55,0.8,0.55,0.12,0,0];
var h13fit24Vel = [0,9.15,9.3,9.38,9.45,9.52,9.6,9.75,17];
var h13fit24T   = [0,0,0.1,0.3,0.42,0.3,0.1,0,0];

// panel id -> fit curve / fitted centre (grey = HCN, blue = H13CN)
var hcnFits = {8:[fit8Vel,fit8T], 17:[fit17Vel,fit17T], 23:[fit23Vel,fit23T]};
var h13Fits = {23:[h13fit23Vel,h13fit23T], 24:[h13fit24Vel,h13fit24T]};
var hcnCentre = {8:9.55, 17:8.65, 23:9.65};
var h13Centre = {23:9.55, 24:9.45};

var colLeft = [53, 382, 711, 1040];
var rowTop = [7, 172, 338, 504, 669, 835, 1001];
var plotW = 279, plotH = 108;
var tickFont = 'DejaVu Sans';

function toPairs(arr) {
    return arr.map(function (t, i) { return [i * velStep, t]; });
}
function zipPairs(xs, ys) {
    return xs.map(function (x, i) { return [x, ys[i]]; });
}

function buildOption() {
    var grids = [], xAxes = [], yAxes = [], series = [], graphics = [];
    for (var i = 0; i < panelIds.length; i++) {
        var pid = panelIds[i];
        var gLeft = colLeft[i % 4], gTop = rowTop[Math.floor(i / 4)];
        var ticks = panelTicks[i];
        var step = ticks[1] - ticks[0];
        var dec = step < 0.5 ? 2 : (step < 1 ? 1 : 0);

        grids.push({left: gLeft, top: gTop, width: plotW, height: plotH,
            show: true, borderColor: '#111', borderWidth: 1.2});

        xAxes.push({
            gridIndex: i, type: 'value', min: 0, max: 17,
            name: 'velocity [km/s]', nameLocation: 'middle', nameGap: 15, nameMoveOverlap: false,
            nameTextStyle: {fontFamily: tickFont, fontSize: 11, color: '#000'},
            axisLine: {show: true, onZero: false, lineStyle: {color: '#111', width: 1.2}},
            axisTick: {show: true, length: 3.5, lineStyle: {color: '#111'}, customValues: xTicks},
            axisLabel: {fontFamily: tickFont, fontSize: 10, color: '#000', margin: 5, customValues: xTicks},
            splitLine: {show: false}
        });

        yAxes.push({
            gridIndex: i, type: 'value', min: yMin, max: panelYmax[i],
            name: '{it|T}{sub|MB} [K]', nameLocation: 'middle', nameRotate: 90,
            nameGap: dec === 2 ? 28 : (dec === 1 ? 21 : 11), nameMoveOverlap: false,
            nameTextStyle: {fontFamily: tickFont, fontSize: 11, color: '#000',
                rich: {it: {fontFamily: tickFont, fontSize: 11, fontStyle: 'italic', color: '#000'},
                       sub: {fontFamily: tickFont, fontSize: 7.5, color: '#000', verticalAlign: 'bottom', lineHeight: 8}}},
            axisLine: {show: true, onZero: false, lineStyle: {color: '#111', width: 1.2}},
            axisTick: {show: true, length: 3.5, lineStyle: {color: '#111'}, customValues: ticks},
            axisLabel: {fontFamily: tickFont, fontSize: 10, color: '#000', margin: 5, customValues: ticks,
                formatter: (function (d) {
                    return function (v) { return v.toFixed(d).replace('-', '\u2212'); };
                })(dec)},
            splitLine: {show: false}
        });

        series.push({type: 'line', xAxisIndex: i, yAxisIndex: i, data: toPairs(panelHcn[i]),
            showSymbol: false, symbol: 'none', silent: true, z: 3,
            lineStyle: {color: '#000', width: 2.6}});

        var mlData = [
            {yAxis: 0, lineStyle: {color: '#6e6e6e', width: 1.4, type: 'solid'}},
            {yAxis: hcnLevel, lineStyle: {color: '#999', width: 1.1, type: 'dashed'}},
            {yAxis: h13Level, lineStyle: {color: '#0000ff', width: 1.2, type: 'dashed'}}
        ];
        if (hcnCentre[pid] !== undefined) mlData.push({xAxis: hcnCentre[pid], lineStyle: {color: '#888', width: 1, type: 'dashed'}});
        if (h13Centre[pid] !== undefined) mlData.push({xAxis: h13Centre[pid], lineStyle: {color: '#1f3cff', width: 1.2, type: 'dashed'}});

        series.push({type: 'line', xAxisIndex: i, yAxisIndex: i, data: toPairs(panelH13[i]),
            showSymbol: false, symbol: 'none', silent: true, z: 4,
            lineStyle: {color: '#40e0d0', width: 2.4},
            markLine: {silent: true, symbol: 'none', label: {show: false}, animation: false, data: mlData}});

        if (hcnFits[pid]) series.push({type: 'line', xAxisIndex: i, yAxisIndex: i, smooth: 0.5,
            data: zipPairs(hcnFits[pid][0], hcnFits[pid][1]), showSymbol: false, symbol: 'none', silent: true, z: 5,
            lineStyle: {color: '#b4b4b4', width: 1.2}});
        if (h13Fits[pid]) series.push({type: 'line', xAxisIndex: i, yAxisIndex: i, smooth: 0.4,
            data: zipPairs(h13Fits[pid][0], h13Fits[pid][1]), showSymbol: false, symbol: 'none', silent: true, z: 6,
            lineStyle: {color: '#1f3cff', width: 2}});

        graphics.push({type: 'text', x: gLeft + 3, y: gTop + 2, z: 10,
            style: {text: 'HCN\u00d72', fill: '#000', font: '12px "DejaVu Sans"'}});
        graphics.push({type: 'text', x: gLeft + 3, y: gTop + 16, z: 10,
            style: {text: 'H\u00b9\u00b3CN', fill: '#40e0d0', font: '12px "DejaVu Sans"'}});
        graphics.push({type: 'text', x: gLeft + plotW - 6, y: gTop + 3, z: 10,
            style: {text: String(pid), fill: '#000', font: '15px "DejaVu Sans"', textAlign: 'right'}});
    }
    return {animation: false, backgroundColor: '#fff',
            grid: grids, xAxis: xAxes, yAxis: yAxes, series: series, graphic: graphics};
}

var chart = echarts.init(document.getElementById('main'));
chart.setOption(buildOption());
</script>
</body>
</html>
